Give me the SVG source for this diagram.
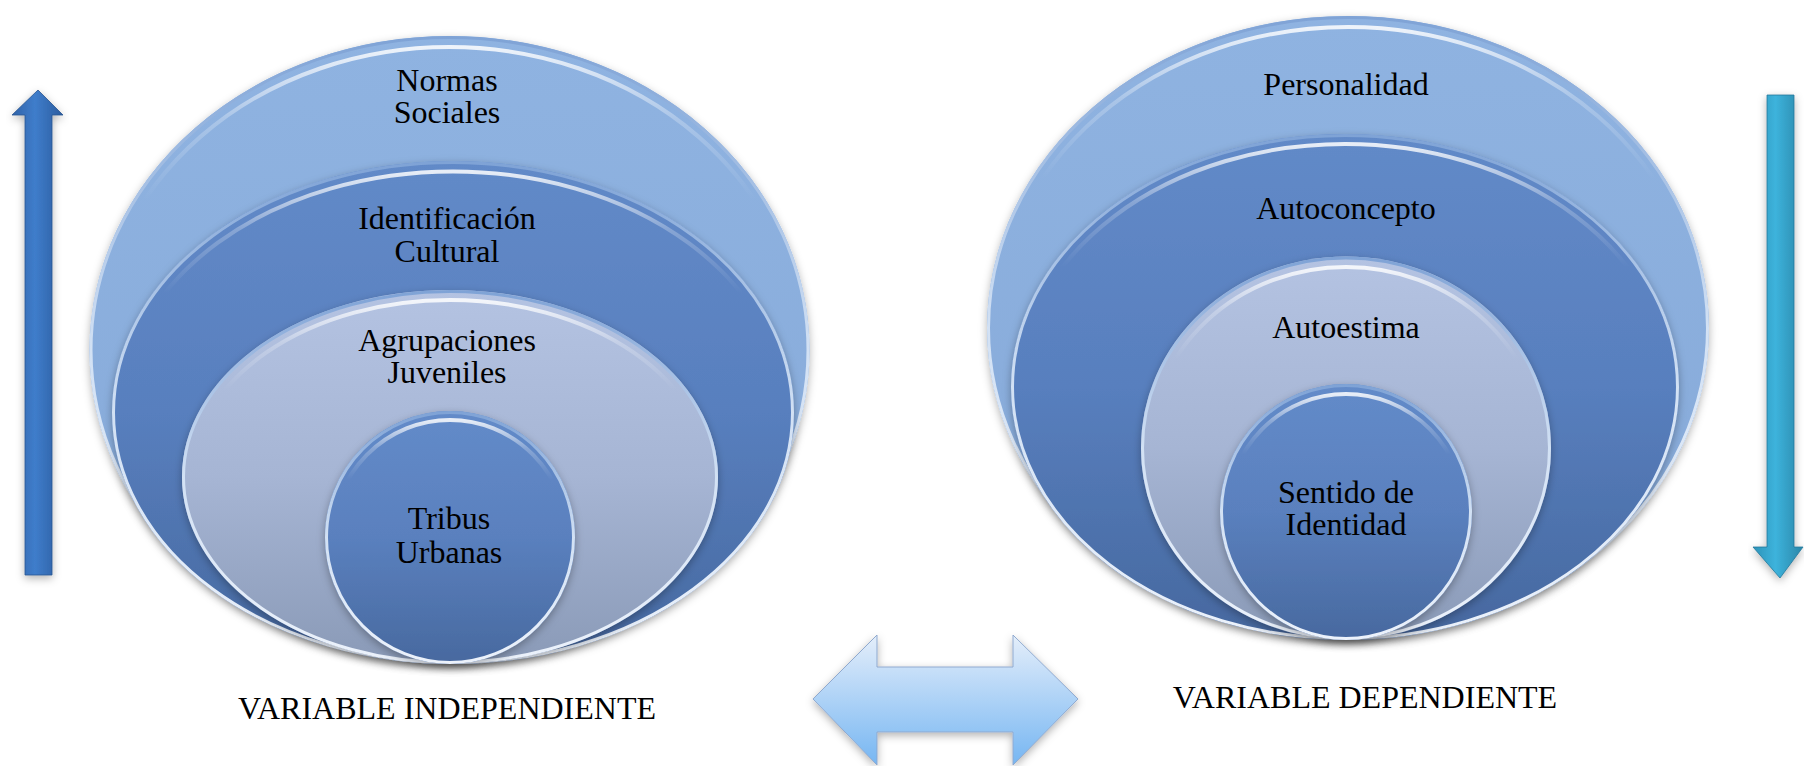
<svg xmlns="http://www.w3.org/2000/svg" width="1804" height="766" viewBox="0 0 1804 766">
<style>
.lbl{font-family:"Liberation Serif","Times New Roman",serif;font-size:32px;fill:#000;text-anchor:middle}
.rim{fill:none;stroke:url(#rimG);stroke-width:3}
.hl{fill:none;stroke:url(#hlG);stroke-width:4}
</style>
<defs>
<linearGradient id="gOuter" x1="0" y1="0" x2="0" y2="1"><stop offset="0" stop-color="#8FB3E1"/><stop offset="1" stop-color="#86A9D8"/></linearGradient>
<linearGradient id="gMid" x1="0" y1="0" x2="0" y2="1"><stop offset="0" stop-color="#628AC8"/><stop offset="0.5" stop-color="#587FBE"/><stop offset="1" stop-color="#46689F"/></linearGradient>
<linearGradient id="gLight" x1="0" y1="0" x2="0" y2="1"><stop offset="0" stop-color="#B4C3E2"/><stop offset="0.5" stop-color="#A6B5D4"/><stop offset="1" stop-color="#8A9AB7"/></linearGradient>
<linearGradient id="gInner" x1="0" y1="0" x2="0" y2="1"><stop offset="0" stop-color="#638BC9"/><stop offset="0.5" stop-color="#5A80BE"/><stop offset="1" stop-color="#48699F"/></linearGradient>
<linearGradient id="rimG" x1="0" y1="0" x2="0" y2="1"><stop offset="0" stop-color="#7FA3D6"/><stop offset="0.5" stop-color="#D2E1F4"/><stop offset="1" stop-color="#ECF2FB"/></linearGradient>
<linearGradient id="hlG" x1="0" y1="0" x2="0" y2="1"><stop offset="0" stop-color="#FFFFFF" stop-opacity="0.85"/><stop offset="0.12" stop-color="#FFFFFF" stop-opacity="0.25"/><stop offset="0.25" stop-color="#FFFFFF" stop-opacity="0"/></linearGradient>
<linearGradient id="gUp" x1="0" y1="0" x2="1" y2="0"><stop offset="0" stop-color="#2F62A8"/><stop offset="0.45" stop-color="#3F7DCB"/><stop offset="1" stop-color="#2B5C9E"/></linearGradient>
<linearGradient id="gDown" x1="0" y1="0" x2="1" y2="0"><stop offset="0" stop-color="#2D93B8"/><stop offset="0.45" stop-color="#3DB3DC"/><stop offset="1" stop-color="#2A86A8"/></linearGradient>
<linearGradient id="gBoth" x1="0" y1="0" x2="0" y2="1"><stop offset="0" stop-color="#E4EEFA"/><stop offset="0.3" stop-color="#C3DDF8"/><stop offset="1" stop-color="#76B6F2"/></linearGradient>
<filter id="sh" x="-10%" y="-10%" width="120%" height="120%"><feDropShadow dx="0" dy="3" stdDeviation="4" flood-color="#000" flood-opacity="0.3"/></filter>
</defs>

<g id="left-venn">
<g id="normas-sociales">
<ellipse cx="449.5" cy="350" rx="360" ry="314" fill="url(#gOuter)" filter="url(#sh)"/>
<ellipse cx="449.5" cy="350" rx="358.5" ry="312.5" class="rim"/>
<ellipse cx="449.5" cy="353" rx="352" ry="306" class="hl"/>
<text class="lbl" x="447" y="91">Normas</text>
<text class="lbl" x="447" y="123">Sociales</text>
</g>
<g id="identificacion-cultural">
<ellipse cx="453" cy="412.5" rx="341" ry="251.5" fill="url(#gMid)" filter="url(#sh)"/>
<ellipse cx="453" cy="412.5" rx="339.5" ry="250" class="rim"/>
<ellipse cx="453" cy="415.5" rx="333" ry="244" class="hl"/>
<text class="lbl" x="447" y="229">Identificación</text>
<text class="lbl" x="447" y="262">Cultural</text>
</g>
<g id="agrupaciones-juveniles">
<ellipse cx="450" cy="477" rx="268" ry="187" fill="url(#gLight)" filter="url(#sh)"/>
<ellipse cx="450" cy="477" rx="266.5" ry="185.5" class="rim"/>
<ellipse cx="450" cy="480" rx="260" ry="180" class="hl"/>
<text class="lbl" x="447" y="351">Agrupaciones</text>
<text class="lbl" x="447" y="383">Juveniles</text>
</g>
<g id="tribus-urbanas">
<ellipse cx="450" cy="537.5" rx="125" ry="126.5" fill="url(#gInner)" filter="url(#sh)"/>
<ellipse cx="450" cy="537.5" rx="123.5" ry="125" class="rim"/>
<ellipse cx="450" cy="540" rx="118" ry="120" class="hl"/>
<text class="lbl" x="449" y="529">Tribus</text>
<text class="lbl" x="449" y="563">Urbanas</text>
</g>
</g>

<g id="right-venn">
<g id="personalidad">
<ellipse cx="1348" cy="328" rx="361" ry="312" fill="url(#gOuter)" filter="url(#sh)"/>
<ellipse cx="1348" cy="328" rx="359.5" ry="310.5" class="rim"/>
<ellipse cx="1348" cy="331" rx="353" ry="304" class="hl"/>
<text class="lbl" x="1346" y="95">Personalidad</text>
</g>
<g id="autoconcepto">
<ellipse cx="1345" cy="387" rx="334" ry="253" fill="url(#gMid)" filter="url(#sh)"/>
<ellipse cx="1345" cy="387" rx="332.5" ry="251.5" class="rim"/>
<ellipse cx="1345" cy="390" rx="326" ry="246" class="hl"/>
<text class="lbl" x="1346" y="219">Autoconcepto</text>
</g>
<g id="autoestima">
<ellipse cx="1346" cy="448" rx="205" ry="191.5" fill="url(#gLight)" filter="url(#sh)"/>
<ellipse cx="1346" cy="448" rx="203.5" ry="190" class="rim"/>
<ellipse cx="1346" cy="451" rx="197" ry="184" class="hl"/>
<text class="lbl" x="1346" y="338">Autoestima</text>
</g>
<g id="sentido-de-identidad">
<ellipse cx="1346" cy="512" rx="126" ry="128" fill="url(#gInner)" filter="url(#sh)"/>
<ellipse cx="1346" cy="512" rx="124.5" ry="126.5" class="rim"/>
<ellipse cx="1346" cy="515" rx="119" ry="121" class="hl"/>
<text class="lbl" x="1346" y="503">Sentido de</text>
<text class="lbl" x="1346" y="535">Identidad</text>
</g>
</g>

<g id="connectors">
<path id="arrow-up" d="M38,90 L63,115 L52,115 L52,575 L25,575 L25,115 L12,115 Z" fill="url(#gUp)" stroke="#2A5690" stroke-width="0.8" filter="url(#sh)"/>
<path id="arrow-down" d="M1767,95 L1794,95 L1794,547 L1803,547 L1780,578 L1753,547 L1767,547 Z" fill="url(#gDown)" stroke="#23779A" stroke-width="0.8" filter="url(#sh)"/>
<path id="arrow-both" d="M813,699 L877,635 L877,667 L1013,667 L1013,635 L1078,699 L1013,765 L1013,732 L877,732 L877,765 Z" fill="url(#gBoth)" stroke="#8FA9CF" stroke-width="1" filter="url(#sh)"/>
</g>

<g id="captions">
<text class="lbl" x="447" y="719">VARIABLE INDEPENDIENTE</text>
<text class="lbl" x="1365" y="708">VARIABLE DEPENDIENTE</text>
</g>
</svg>
